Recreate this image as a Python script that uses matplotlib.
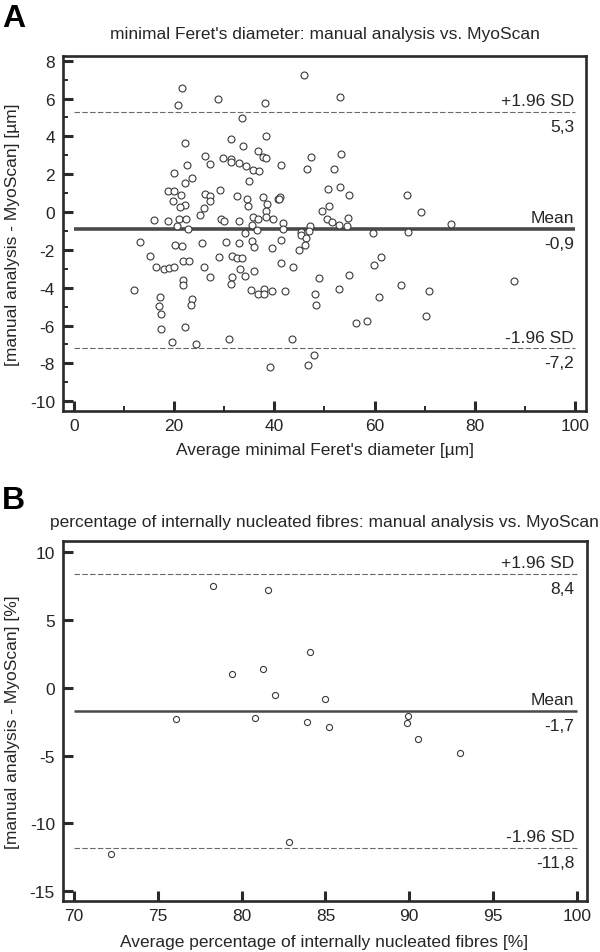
import matplotlib
matplotlib.use("Agg")
import matplotlib.pyplot as plt
from matplotlib.ticker import MultipleLocator

plt.rcParams['font.family'] = ['Liberation Sans', 'DejaVu Sans']
plt.rcParams['axes.unicode_minus'] = False

# ---------------- Panel A data ----------------
a_avg = [21.6, 20.7, 28.7, 33.5, 22.2, 31.3, 33.8, 36.8, 26.2, 29.8, 31.4, 31.3, 32.9, 27.1,
         22.6, 34.4, 35.8, 36.9, 19.9, 23.5, 22.2, 35.0, 18.8, 19.9, 29.1, 21.4, 26.2, 27.2,
         32.6, 34.6, 19.8, 27.2, 22.2, 21.2, 25.9, 34.8,
         25.2, 16.0, 18.7, 20.9, 22.4, 29.3, 29.9, 32.9, 35.7, 36.7, 35.6, 20.6, 22.7, 34.2,
         36.5, 13.2, 20.1, 21.6, 25.5, 30.3, 32.9, 35.6, 36.0, 15.1, 28.9, 31.5, 32.5, 33.5,
         21.7, 22.9, 16.3, 17.9, 19.0, 20.0, 25.9, 33.2, 35.9, 27.2, 31.5, 34.2, 21.7, 21.8,
         31.3, 12.0, 35.4, 36.8, 17.1, 23.5, 17.0, 23.3, 17.3, 17.3, 22.2, 19.6, 24.4, 30.9,
         38.6, 38.4, 40.8, 38.3, 39.8, 41.8, 41.8, 49.6, 50.8, 50.5, 51.5, 52.9, 54.7, 54.5,
         47.1, 46.9, 45.3, 45.3, 46.4, 46.1, 45.0, 59.6, 66.6, 69.3, 75.3, 41.4, 39.6, 41.4,
         43.8, 48.9, 54.8, 59.9, 61.2, 65.2, 70.9, 38.0, 38.0, 39.6, 42.2, 48.1, 52.8, 60.8,
         48.3, 56.3, 58.4, 70.2, 43.6, 47.9, 46.7, 39.2,
         45.9, 53.1, 38.1, 38.3, 37.8, 38.4, 47.4, 53.3, 41.4, 46.5, 51.8, 50.7, 53.0, 54.8,
         66.5, 37.8, 41.1, 41.0, 87.8]
a_diff = [6.54, 5.65, 5.96, 4.99, 3.64, 3.85, 3.51, 3.22, 2.95, 2.87, 2.83, 2.64, 2.57, 2.53,
          2.50, 2.41, 2.22, 2.18, 2.04, 1.81, 1.56, 1.65, 1.11, 1.14, 1.19, 0.88, 0.95, 0.84,
          0.84, 0.70, 0.61, 0.56, 0.39, 0.26, 0.24, 0.30,
          -0.18, -0.44, -0.48, -0.39, -0.39, -0.39, -0.48, -0.48, -0.27, -0.35, -0.67, -0.74, -0.90, -1.09,
          -0.93, -1.58, -1.73, -1.81, -1.66, -1.58, -1.66, -1.53, -1.83, -2.32, -2.39, -2.31, -2.43, -2.43,
          -2.59, -2.59, -2.89, -3.03, -2.94, -2.92, -2.89, -3.01, -3.11, -3.45, -3.45, -3.38, -3.61, -3.85,
          -3.78, -4.14, -4.14, -4.32, -4.49, -4.61, -4.96, -4.91, -5.37, -6.17, -6.05, -6.88, -6.99, -6.69,
          0.44, 0.08, 0.67, -0.27, -0.35, -0.56, -0.88, 0.05, 0.32, -0.39, -0.53, -0.71, -0.30, -0.76,
          -0.76, -0.99, -1.06, -1.23, -1.37, -1.76, -2.03, -1.09, -1.06, 0.00, -0.62, -1.46, -1.90, -2.68,
          -2.92, -3.48, -3.34, -2.82, -2.36, -3.84, -4.15, -4.06, -4.31, -4.15, -4.19, -4.33, -4.06, -4.49,
          -4.89, -5.86, -5.75, -5.49, -6.69, -7.57, -8.06, -8.20,
          7.25, 6.10, 5.77, 4.01, 2.92, 2.87, 2.92, 3.08, 2.50, 2.27, 2.27, 1.21, 1.35, 0.91,
          0.88, 0.81, 0.82, 0.70, -3.66]
a_title = "minimal Feret's diameter: manual analysis vs. MyoScan"
a_xlabel = "Average minimal Feret's diameter [µm]"
a_ylabel = "[manual analysis - MyoScan] [µm]"
a_lines = [5.3, -0.9, -7.2]
a_line_names = ["+1.96 SD", "Mean", "-1.96 SD"]
a_line_values = ["5,3", "-0,9", "-7,2"]

# ---------------- Panel B data ----------------
b_avg = [78.3, 81.6, 84.1, 79.4, 81.3, 82.0, 85.0, 76.1, 80.8, 83.9, 85.2, 89.9, 89.86,
         90.5, 93.0, 82.8, 72.2]
b_diff = [7.49, 7.19, 2.65, 1.05, 1.39, -0.49, -0.80, -2.27, -2.22, -2.51, -2.85, -2.10,
          -2.61, -3.76, -4.83, -11.34, -12.24]
b_title = "percentage of internally nucleated fibres: manual analysis vs. MyoScan"
b_xlabel = "Average percentage of internally nucleated fibres [%]"
b_ylabel = "[manual analysis - MyoScan] [%]"
b_lines = [8.4, -1.7, -11.8]
b_line_names = ["+1.96 SD", "Mean", "-1.96 SD"]
b_line_values = ["8,4", "-1,7", "-11,8"]

W, H = 600, 953
fig = plt.figure(figsize=(W / 100, H / 100), dpi=100)
TXT = '#262626'
FS = 12.5


def fx(px):
    return px / W


def fy(py):
    return 1 - py / H


def panel(rect, xs, ys, xlim, ylim, xmaj, xmin, ymaj, ymin, xspan, lines, names, vals,
          mean_lw, ms):
    ax = fig.add_axes(rect)
    ax.plot(xs, ys, linestyle='none', marker='o', ms=ms, mfc='white', mec='#3a3a3a',
            mew=0.8, zorder=3)
    for i, (yv, nm, vv) in enumerate(zip(lines, names, vals)):
        if i == 1:
            ax.plot(xspan, [yv, yv], color='#4a4a4a', lw=mean_lw, zorder=2,
                    solid_capstyle='butt')
        else:
            ax.plot(xspan, [yv, yv], color='#6a6a6a', lw=0.8, dashes=(5, 2), zorder=2)
        tr = ax.get_yaxis_transform()
        ax.annotate(nm, xy=(0.977, yv), xycoords=tr, xytext=(0, 4.8),
                    textcoords='offset points', ha='right', va='baseline',
                    fontsize=FS, color=TXT)
        ax.annotate(vv, xy=(0.977, yv), xycoords=tr, xytext=(0, -13.5),
                    textcoords='offset points', ha='right', va='baseline',
                    fontsize=FS, color=TXT)
    ax.set_xlim(*xlim)
    ax.set_ylim(*ylim)
    ax.xaxis.set_major_locator(MultipleLocator(xmaj))
    ax.yaxis.set_major_locator(MultipleLocator(ymaj))
    if xmin:
        ax.xaxis.set_minor_locator(MultipleLocator(xmin))
    if ymin:
        ax.yaxis.set_minor_locator(MultipleLocator(ymin))
    for s in ax.spines.values():
        s.set_linewidth(1.9)
        s.set_color('#2a2a2a')
    ax.tick_params(which='major', direction='in', length=7.2, width=2.2, color='#2a2a2a',
                   labelsize=FS, labelcolor=TXT, pad=5)
    ax.tick_params(which='minor', direction='in', length=3.3, width=1.4, color='#2a2a2a')
    ax.tick_params(axis='y', pad=6)
    return ax


axA = panel([fx(63.3), fy(411.7), fx(586) - fx(63.3), fy(57) - fy(411.7)],
            a_avg, a_diff, (-2.14, 102.2), (-10.5, 8.25), 20, 10, 2, 1, [0, 100],
            a_lines, a_line_names, a_line_values, 2.6, 5.0)
axB = panel([fx(63.3), fy(902.3), fx(586.5) - fx(63.3), fy(541.7) - fy(902.3)],
            b_avg, b_diff, (69.36, 100.57), (-15.74, 10.86), 5, None, 5, None, [70, 100],
            b_lines, b_line_names, b_line_values, 1.8, 4.4)

# titles, axis labels, panel letters
fig.text(fx(324.5), fy(39.5), a_title, ha='center', va='baseline', fontsize=FS, color=TXT)
fig.text(fx(324.5), fy(527.3), b_title, ha='center', va='baseline', fontsize=FS, color=TXT)
fig.text(fx(324.5), fy(455), a_xlabel, ha='center', va='baseline', fontsize=FS, color=TXT)
fig.text(fx(324.5), fy(947), b_xlabel, ha='center', va='baseline', fontsize=FS, color=TXT)
fig.text(fx(13), fy(234.4), a_ylabel, ha='center', va='center', rotation=90,
         fontsize=FS, color=TXT)
fig.text(fx(13), fy(722), b_ylabel, ha='center', va='center', rotation=90,
         fontsize=FS, color=TXT)
fig.text(fx(2), fy(26.8), "A", ha='left', va='baseline', fontsize=23, fontweight='bold',
         color='black')
fig.text(fx(2), fy(509), "B", ha='left', va='baseline', fontsize=23, fontweight='bold',
         color='black')

fig.savefig("out.png", dpi=100, facecolor='white')
